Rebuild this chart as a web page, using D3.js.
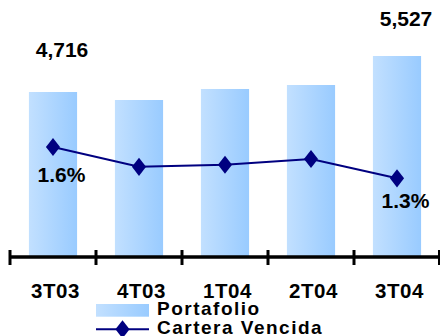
<!DOCTYPE html>
<html><head><meta charset="utf-8">
<script src="https://cdn.jsdelivr.net/npm/d3@7"></script>
<style>
html,body{margin:0;padding:0;background:#fff;}
svg{display:block;font-family:"Liberation Sans",Arial,sans-serif;font-weight:bold;}
</style></head>
<body>
<script>
const categories = ["3T03","4T03","1T04","2T04","3T04"];
const portafolio = [4716, 4536, 4784, 4874, 5527];
const carteraVencida = [1.6, 1.41, 1.43, 1.485, 1.3];
const barLabels = ["4,716", null, null, null, "5,527"];
const lineLabels = ["1.6%", null, null, null, "1.3%"];
const legendLabels = ["Portafolio", "Cartera Vencida"];

const W = 440, H = 336;
const svg = d3.select("body").append("svg").attr("width", W).attr("height", H);

const defs = svg.append("defs");
const grad = defs.append("linearGradient").attr("id","barGrad").attr("x1","0").attr("x2","1").attr("y1","0").attr("y2","0");
grad.append("stop").attr("offset","0%").attr("stop-color","#c2e0ff");
grad.append("stop").attr("offset","100%").attr("stop-color","#99cbff");

const x = d3.scaleBand().domain(categories).range([10, 440]).paddingInner(0.44).paddingOuter(0.22);
const yBar = d3.scaleLinear().domain([1000, 6000]).range([257, 35]);
const yLine = d3.scaleLinear().domain([1.0, 2.0]).range([209.6, 105.3]);
const cx = c => x(c) + x.bandwidth() / 2;
const idx = c => categories.indexOf(c);

// bars
svg.append("g").selectAll("rect").data(categories).join("rect")
  .attr("x", d => x(d))
  .attr("y", d => yBar(portafolio[idx(d)]))
  .attr("width", x.bandwidth())
  .attr("height", d => yBar(1000) - yBar(portafolio[idx(d)]))
  .attr("fill", "url(#barGrad)");

// axis
const axisG = svg.append("g").attr("transform", `translate(0,${yBar(1000)})`);
const tickXs = categories.map(c => x(c) - x.step()*0.22).concat([440 - 0.5]);
axisG.append("line").attr("x1", 10).attr("x2", 440).attr("y1", 0).attr("y2", 0)
  .attr("stroke", "#000").attr("stroke-width", 3.5);
axisG.selectAll("line.tick").data(tickXs).join("line").attr("class","tick")
  .attr("x1", d => d).attr("x2", d => d).attr("y1", -7).attr("y2", 8)
  .attr("stroke", "#000").attr("stroke-width", 3);
axisG.selectAll("text").data(categories).join("text")
  .attr("x", d => cx(d) + 2.5).attr("y", 40.5)
  .attr("text-anchor", "middle").attr("font-size", 20.5).attr("fill", "#000")
  .attr("letter-spacing", 0.6)
  .text(d => d);

// line
const line = d3.line().x((d,i) => cx(categories[i])).y(d => yLine(d));
svg.append("path").datum(carteraVencida).attr("d", line)
  .attr("fill","none").attr("stroke","#000080").attr("stroke-width", 2);
const diamond = d3.symbol().type(d3.symbolDiamond).size(95);
svg.append("g").selectAll("path").data(carteraVencida).join("path")
  .attr("d", diamond)
  .attr("transform", (d,i) => `translate(${cx(categories[i])},${yLine(d)}) scale(1.35,1)`)
  .attr("fill", "#000080");

// labels
svg.append("g").selectAll("text").data(categories.filter(c => barLabels[idx(c)])).join("text")
  .attr("x", d => cx(d) + 9)
  .attr("y", d => yBar(portafolio[idx(d)]) - (idx(d) === 0 ? 35 : 30.5))
  .attr("text-anchor","middle").attr("font-size", 21).attr("fill","#000")
  .text(d => barLabels[idx(d)]);
svg.append("g").selectAll("text").data(categories.filter(c => lineLabels[idx(c)])).join("text")
  .attr("x", d => cx(d) + 8.5)
  .attr("y", d => yLine(carteraVencida[idx(d)]) + (idx(d) === 0 ? 34.5 : 30))
  .attr("text-anchor","middle").attr("font-size", 21).attr("fill","#000")
  .text(d => lineLabels[idx(d)]);

// legend
const lg = svg.append("g");
lg.append("rect").attr("x", 96).attr("y", 304).attr("width", 53).attr("height", 12.7).attr("fill","url(#barGrad)");
lg.append("line").attr("x1", 96).attr("x2", 149).attr("y1", 329.3).attr("y2", 329.3).attr("stroke","#000080").attr("stroke-width",2);
lg.append("path").attr("d", diamond).attr("transform","translate(122.5,329.3) scale(1.35,1)").attr("fill","#000080");
lg.selectAll("text").data(legendLabels).join("text")
  .attr("x", 157).attr("y", (d,i) => 315.3 + i*18.5)
  .attr("font-size", 19).attr("letter-spacing", 1.5).attr("fill","#000")
  .text(d => d);
</script>
</body></html>
